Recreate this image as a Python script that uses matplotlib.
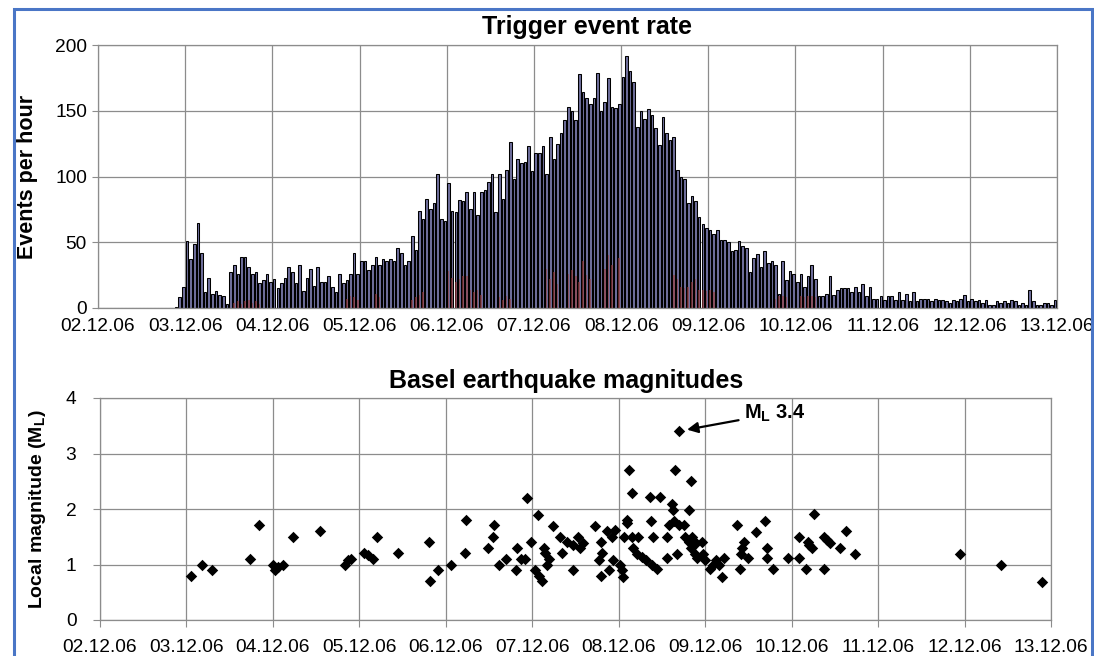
import numpy as np
import matplotlib
matplotlib.use('Agg')
import matplotlib.pyplot as plt
from matplotlib.patches import Rectangle

plt.rcParams['font.family'] = ['Liberation Sans', 'DejaVu Sans']
plt.rcParams['mathtext.fontset'] = 'custom'
plt.rcParams['mathtext.rm'] = 'Liberation Sans'
plt.rcParams['mathtext.bf'] = 'Liberation Sans:bold'

# x axis: days since 02.12.06 00:00
day_labels = ['02.12.06', '03.12.06', '04.12.06', '05.12.06', '06.12.06', '07.12.06',
              '08.12.06', '09.12.06', '10.12.06', '11.12.06', '12.12.06', '13.12.06']

# trigger events per hour, one value per hour from 02.12.06 00:00
event_rate = [
    0, 0, 0, 0, 0, 0, 0, 0, 0, 0, 0, 0, 0, 0, 0, 0, 0, 0, 0, 0, 0,
    1, 8, 16, 51, 37, 49, 65, 42, 12, 23, 11, 13, 10, 9, 3, 27, 33, 26, 39,
    39, 31, 26, 27, 19, 21, 26, 20, 22, 15, 19, 23, 31, 27, 19, 33, 13, 23, 30, 17, 31,
    20, 20, 24, 16, 12, 26, 19, 21, 26, 42, 26, 36, 36, 29, 33, 39, 33, 37, 36, 37,
    36, 46, 42, 33, 36, 55, 44, 74, 68, 83, 75, 80, 102, 68, 66, 95, 74, 73, 82, 81,
    88, 75, 88, 71, 88, 90, 96, 102, 73, 102, 83, 105, 126, 98, 113, 110, 111, 123, 104, 118,
    118, 123, 102, 130, 113, 125, 133, 143, 153, 150, 143, 178, 164, 160, 155, 160, 179, 150, 157, 175, 153,
    152, 155, 176, 192, 180, 172, 138, 150, 144, 151, 147, 137, 124, 145, 133, 128, 130, 105, 100, 98,
    80, 85, 81, 69, 64, 61, 59, 56, 59, 52, 52, 50, 43, 44, 51, 47, 46, 27, 38, 41,
    31, 43, 34, 36, 33, 11, 36, 21, 28, 26, 20, 26, 16, 24, 33, 22, 9, 9, 11, 24,
    10, 14, 15, 15, 15, 12, 16, 12, 18, 9, 16, 7, 7, 9, 6, 9, 9,
    6,
    12, 6, 11, 5, 12, 5, 7, 7, 7, 5, 7, 6, 6, 5, 4, 6, 5, 7, 10, 5, 7, 5,
    6, 4, 6, 2, 2, 5, 4, 5, 4, 6, 5, 2, 4, 2, 14, 5, 2, 2, 4, 4, 2, 6,
]

# smaller red series inside the bars
red_hours = [37, 38, 39, 40, 41, 42, 43, 44, 68, 69, 70, 71, 76, 77, 86, 87, 88, 89,
             96, 97, 98, 99, 100, 101, 102, 103, 104, 105, 110, 111, 112, 113,
             123, 124, 125, 126, 129, 130, 131, 132, 133, 134, 135, 139, 140, 141, 143,
             158, 159, 160, 161, 162, 163, 164, 165, 166, 167, 168, 169,
             186, 187, 188, 189, 193, 194, 195, 196, 197]
red_rate = [4, 5, 3, 5, 6, 4, 5, 3, 7, 9, 8, 6, 11, 8, 6, 8, 10, 12,
            28, 23, 20, 22, 24, 24, 14, 12, 14, 10, 8, 6, 9, 7,
            30, 22, 27, 18, 26, 29, 24, 20, 36, 25, 22, 30, 40, 33, 38,
            25, 22, 16, 15, 16, 20, 22, 14, 14, 13, 14, 12,
            7, 9, 9, 8, 9, 8, 9, 9, 8]

# Basel earthquakes: time (days since 02.12.06) and local magnitude
quake_day = [1.05, 1.18, 1.30, 1.74, 1.84, 2.00, 2.02, 2.06, 2.12, 2.23, 2.54, 2.83, 2.87, 2.90, 3.05, 3.10, 3.16, 3.20, 3.45,
             3.81, 3.82, 3.91, 4.06, 4.23, 4.22, 4.49, 4.54, 4.56, 4.61, 4.70, 4.81, 4.82, 4.87, 4.92, 4.94, 4.99,
             5.03, 5.07, 5.08, 5.11, 5.13, 5.15, 5.17, 5.19, 5.24, 5.32, 5.34, 5.40, 5.47, 5.47, 5.53, 5.55, 5.59,
             5.73, 5.77, 5.79, 5.80, 5.81, 5.86, 5.89, 5.92, 5.93, 5.96,
             6.01, 6.04, 6.05, 6.06, 6.09, 6.09, 6.12, 6.15, 6.15, 6.17, 6.21, 6.22, 6.27, 6.31, 6.36, 6.37, 6.38,
             6.40, 6.44, 6.48, 6.56, 6.56, 6.58, 6.62, 6.63, 6.64, 6.65, 6.67, 6.70, 6.70, 6.75, 6.77, 6.81, 6.81,
             6.84, 6.84, 6.85, 6.88, 6.89, 6.90, 6.96, 6.97,
             7.00, 7.05, 7.09, 7.13, 7.16, 7.19, 7.22, 7.37, 7.40, 7.41, 7.43, 7.45, 7.49, 7.59, 7.69, 7.71, 7.72,
             7.79, 7.96, 8.08, 8.09, 8.17, 8.19, 8.20, 8.24, 8.26, 8.37, 8.37, 8.41, 8.44, 8.56, 8.63, 8.73,
             9.95, 10.42, 10.90]
quake_mag = [0.80, 1.00, 0.90, 1.10, 1.72, 1.00, 0.90, 0.95, 1.00, 1.50, 1.60, 1.00, 1.08, 1.10, 1.20, 1.17, 1.10, 1.50, 1.20,
             1.41, 0.70, 0.90, 1.00, 1.80, 1.20, 1.30, 1.50, 1.72, 1.00, 1.10, 0.90, 1.30, 1.10, 1.10, 2.20, 1.40,
             0.90, 1.90, 0.80, 0.70, 1.30, 1.20, 1.00, 1.10, 1.70, 1.50, 1.20, 1.40, 0.90, 1.35, 1.50, 1.30, 1.38,
             1.70, 1.08, 0.80, 1.40, 1.20, 1.60, 0.90, 1.50, 1.08, 1.62,
             1.00, 0.90, 0.78, 1.50, 1.75, 1.81, 2.70, 2.29, 1.49, 1.29, 1.19, 1.49, 1.14, 1.08, 2.21, 1.79, 1.00,
             1.49, 0.91, 2.21, 1.49, 1.11, 1.71, 2.09, 1.98, 1.79, 2.70, 1.19, 3.40, 1.71, 1.71, 1.49, 1.98, 1.41,
             2.51, 1.29, 1.49, 1.19, 1.38, 1.11, 1.41, 1.19,
             1.08, 0.91, 0.99, 1.08, 0.99, 0.78, 1.11, 1.71, 0.91, 1.19, 1.29, 1.41, 1.11, 1.59, 1.79, 1.29, 1.11,
             0.91, 1.11, 1.11, 1.49, 0.91, 1.41, 1.35, 1.29, 1.91, 1.49, 0.91, 1.44, 1.38, 1.29, 1.61, 1.19,
             1.19, 0.99, 0.69]

grid_col = '#8c8c8c'

fig = plt.figure(figsize=(10.94, 6.56), dpi=100)
ax1 = fig.add_axes([98 / 1094, 1 - 308 / 656, 959 / 1094, 263 / 656])
ax2 = fig.add_axes([100 / 1094, 1 - 620 / 656, 951 / 1094, 222 / 656])

# top: trigger event rate
hours = np.arange(len(event_rate))
ax1.bar((hours + 0.5) / 24, event_rate, width=0.72 / 24, color='#6f6f9c',
        edgecolor='black', linewidth=0.75, zorder=2)
ax1.bar((np.array(red_hours) + 0.5) / 24, red_rate, width=0.45 / 24,
        color='#9c3c3c', alpha=0.6, linewidth=0, zorder=3)
ax1.set_xlim(0, 11)
ax1.set_ylim(0, 200)
ax1.set_yticks(range(0, 201, 50))
ax1.set_xticks(range(12))
ax1.set_xticklabels(day_labels)
ax1.set_xticks([2, 6, 10], minor=True)
ax1.tick_params(axis='x', which='major', length=0, pad=7, labelsize=13.8)
ax1.tick_params(axis='x', which='minor', length=5, color=grid_col)
ax1.tick_params(axis='y', length=4, color=grid_col, pad=4, labelsize=13.8)
ax1.set_title('Trigger event rate', x=0.51, fontsize=18, fontweight='bold', pad=8)
ax1.set_ylabel('Events per hour', fontsize=15.5, fontweight='bold')
ax1.yaxis.set_label_coords(-0.0626, 0.5)

# bottom: earthquake magnitudes
ax2.scatter(quake_day, quake_mag, marker='D', s=34, color='black', linewidths=0, zorder=3)
ax2.set_xlim(0, 11)
ax2.set_ylim(0, 4)
ax2.set_yticks(range(5))
ax2.set_xticks(range(12))
ax2.set_xticklabels(day_labels)
ax2.tick_params(axis='x', length=5, color=grid_col, pad=9, labelsize=13.8)
ax2.tick_params(axis='y', length=5, color=grid_col, pad=12, labelsize=13.8)
ax2.set_title('Basel earthquake magnitudes', x=0.49, fontsize=18, fontweight='bold', pad=7)
ax2.set_ylabel(r'Local magnitude ($\mathbf{M_L}$)', fontsize=14, fontweight='bold')
ax2.yaxis.set_label_coords(-0.055, 0.5)
ax2.annotate(r'$\mathbf{M_L}$ 3.4', xy=(6.79, 3.43), xytext=(7.45, 3.72),
             fontsize=14.5, fontweight='bold', va='center', ha='left',
             arrowprops=dict(arrowstyle='-|>', color='black', lw=1.6, mutation_scale=16,
                             shrinkA=2, shrinkB=0))

for ax in (ax1, ax2):
    ax.grid(True, color=grid_col, linewidth=0.9)
    ax.set_axisbelow(True)
    for sp in ax.spines.values():
        sp.set_color(grid_col)
        sp.set_linewidth(0.9)

# blue frame round the whole figure
fig.patches.append(Rectangle((14 / 1094, -0.05), 1078 / 1094, 1 - 9 / 656 + 0.05,
                             transform=fig.transFigure, fill=False,
                             edgecolor='#4a76c6', linewidth=2.2))

fig.savefig('out.png', dpi=100)
